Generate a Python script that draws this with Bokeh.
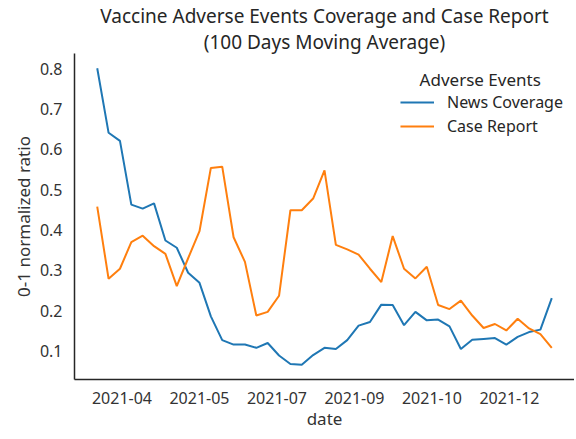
from bokeh.plotting import figure
from bokeh.models import FixedTicker, Legend, LegendItem, Title, Label
from bokeh.embed import file_html
from bokeh.resources import INLINE

news_coverage = [0.801, 0.641, 0.621, 0.463, 0.453, 0.466, 0.374, 0.356, 0.294, 0.269,
                 0.186, 0.127, 0.116, 0.116, 0.108, 0.120, 0.089, 0.068, 0.066, 0.090,
                 0.108, 0.105, 0.127, 0.163, 0.172, 0.215, 0.214, 0.164, 0.197, 0.176,
                 0.178, 0.161, 0.105, 0.128, 0.130, 0.132, 0.116, 0.135, 0.147, 0.153,
                 0.231]
case_report = [0.458, 0.279, 0.304, 0.370, 0.386, 0.360, 0.341, 0.261, 0.330, 0.397,
               0.554, 0.557, 0.382, 0.321, 0.188, 0.197, 0.237, 0.449, 0.449, 0.478,
               0.548, 0.363, 0.352, 0.339, 0.304, 0.271, 0.385, 0.304, 0.280, 0.309,
               0.214, 0.204, 0.225, 0.188, 0.157, 0.167, 0.151, 0.180, 0.156, 0.142,
               0.108]
x_index = list(range(len(news_coverage)))
x_tick_labels = ["2021-04", "2021-05", "2021-07", "2021-09", "2021-10", "2021-12"]
x_tick_pos = [2.18, 9.0, 15.82, 22.64, 29.46, 36.28]
y_ticks = [0.1, 0.2, 0.3, 0.4, 0.5, 0.6, 0.7, 0.8]
title_line1 = "Vaccine Adverse Events Coverage and Case Report"
title_line2 = "(100 Days Moving Average)"

FONT = "Noto Sans"
TXT = "#262626"

p = figure(frame_width=500, frame_height=326, output_backend="svg", toolbar_location=None,
           x_range=(-2, 42), y_range=(0.0294, 0.8376),
           min_border_left=0, min_border_right=0, min_border_top=0, min_border_bottom=0,
           styles={"margin-left": "8px"})
p.outline_line_color = None
p.grid.grid_line_color = None
p.background_fill_color = "white"

r1 = p.line(x_index, news_coverage, line_color="#1f77b4", line_width=2)
r2 = p.line(x_index, case_report, line_color="#ff7f0e", line_width=2)

p.add_layout(Title(text=title_line2, align="center", text_font=FONT,
                   text_font_size="19px", text_font_style="normal", text_color=TXT,
                   standoff=-3), "above")
p.add_layout(Title(text=title_line1, align="center",
                   text_font=FONT, text_font_size="19px", text_font_style="normal",
                   text_color=TXT, standoff=0), "above")

p.xaxis.ticker = FixedTicker(ticks=x_tick_pos)
p.xaxis.major_label_overrides = {t: l for t, l in zip(x_tick_pos, x_tick_labels)}
p.yaxis.ticker = FixedTicker(ticks=y_ticks)
p.xaxis.axis_label = "date"
p.yaxis.axis_label = "0-1 normalized ratio"
for ax in (p.xaxis[0], p.yaxis[0]):
    ax.axis_line_color = "#262626"
    ax.axis_line_width = 1.5
    ax.major_tick_line_color = None
    ax.minor_tick_line_color = None
    ax.major_tick_out = 0
    ax.major_tick_in = 0
    ax.minor_tick_out = 0
    ax.minor_tick_in = 0
    ax.major_label_text_font = FONT
    ax.major_label_text_font_size = "16px"
    ax.major_label_text_color = "#333333"
    ax.axis_label_text_font = FONT
    ax.axis_label_text_font_size = "17px"
    ax.axis_label_text_font_style = "normal"
    ax.axis_label_text_color = "#333333"
p.xaxis.major_label_standoff = 12
p.yaxis.major_label_standoff = 12
p.xaxis.axis_label_standoff = 0
p.yaxis.axis_label_standoff = 2

legend = Legend(items=[LegendItem(label="News Coverage", renderers=[r1]),
                       LegendItem(label="Case Report", renderers=[r2])],
                location="top_right", title=" ",
                title_text_font=FONT, title_text_font_size="17px", title_text_font_style="normal",
                title_text_color=TXT, label_text_font=FONT, label_text_font_size="16px",
                label_text_color=TXT, border_line_color=None, background_fill_alpha=0,
                glyph_width=34, label_standoff=13, spacing=2, padding=4, margin=11,
                title_standoff=4)
p.add_layout(legend)
p.add_layout(Label(x=33.7, y=0.773, text="Adverse Events", text_align="center",
                   text_baseline="middle", text_font=FONT, text_font_size="17px",
                   text_color=TXT))

open("out.html", "w").write(file_html(p, INLINE))
